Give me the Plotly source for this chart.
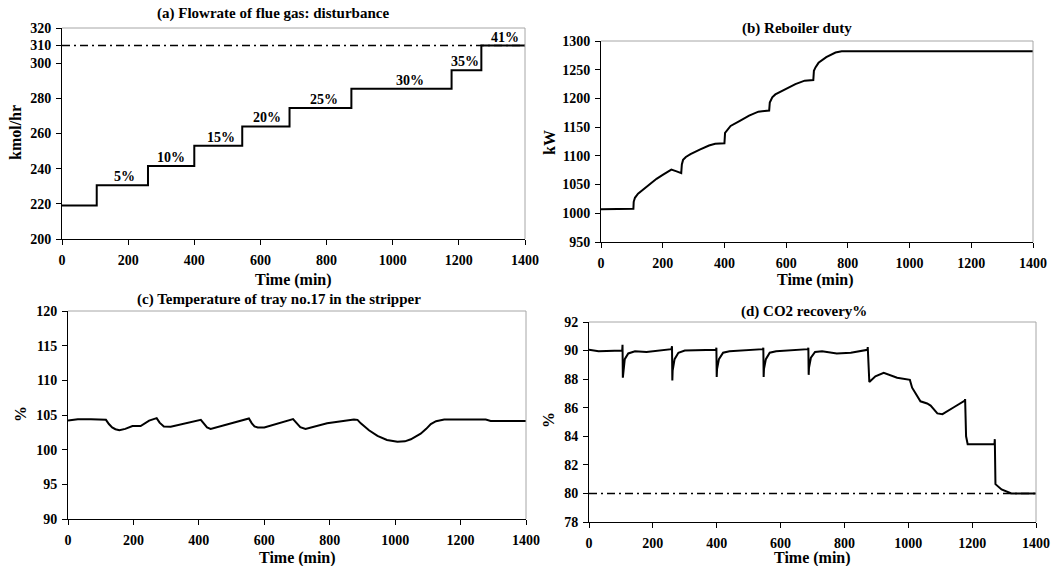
import plotly.graph_objects as go

# ---------------- data ----------------
# (a) flue gas flowrate steps
a_t = [0, 105, 105, 260, 260, 400, 400, 545, 545, 688, 688, 875, 875, 1178, 1178, 1268, 1268, 1400]
a_v = [219, 219, 230.5, 230.5, 241.5, 241.5, 253, 253, 264, 264, 274.5, 274.5, 285.5, 285.5, 296, 296, 310, 310]
a_limit = 310
a_labels = ["5%", "10%", "15%", "20%", "25%", "30%", "35%", "41%"]
a_label_t = [188, 330, 480, 620, 792, 1052, 1218, 1340]
a_label_v = [230.5, 241.5, 253, 264, 274.5, 285.5, 296, 310]

# (b) reboiler duty
b_t = [0, 70, 105, 106, 110, 120, 140, 160, 180, 200, 228, 245, 260, 262, 266, 275, 290, 320, 350, 370, 400,
       402, 410, 420, 450, 480, 510, 545, 547, 555, 565, 600, 630, 660, 688, 690, 695, 705, 730, 760, 780, 1400]
b_v = [1007, 1007, 1008, 1020, 1027, 1034, 1043, 1052, 1060, 1067, 1076, 1073, 1070, 1085, 1093, 1098, 1103, 1111, 1118, 1121, 1122,
       1140, 1146, 1152, 1161, 1170, 1177, 1179, 1193, 1202, 1207, 1216, 1225, 1231, 1232, 1248, 1254, 1262, 1272, 1280, 1282, 1282]

# (c) temperature of tray 17
c_t = [0, 30, 70, 116, 125, 135, 145, 157, 175, 197, 222, 248, 271, 280, 293, 314, 406, 415, 425, 436, 553, 562, 570, 580, 600,
       688, 698, 710, 726, 792, 874, 885, 895, 920, 946, 975, 1007, 1030, 1048, 1078, 1095, 1109, 1125, 1150, 1277, 1292, 1400]
c_v = [104.2, 104.4, 104.4, 104.3, 103.7, 103.2, 102.95, 102.8, 103.0, 103.4, 103.4, 104.2, 104.55, 103.9, 103.35, 103.3, 104.3,
       103.7, 103.2, 103.0, 104.5, 103.8, 103.35, 103.2, 103.2,
       104.4, 103.8, 103.25, 103.0, 103.8, 104.35, 104.3, 103.8, 102.8, 102.0, 101.4, 101.15, 101.2, 101.5, 102.3, 103.0, 103.7,
       104.1, 104.35, 104.35, 104.15, 104.15]

# (d) CO2 recovery
d_t = [0, 30, 104, 105, 106, 112, 123, 144, 180, 220, 258,
       260, 261, 262, 268, 280, 300, 340, 398,
       399, 400, 401, 407, 420, 440, 480, 545,
       546, 547, 548, 554, 566, 586, 630, 686,
       687, 688, 689, 695, 708, 730, 776, 820, 872,
       873, 878, 897, 923, 965, 1005, 1012, 1038, 1059, 1070, 1091, 1107, 1144, 1177,
       1178, 1181, 1186, 1230, 1270, 1271, 1273, 1292, 1323, 1400]
d_v = [90.05, 89.95, 90.0, 90.4, 88.1, 89.4, 89.8, 89.95, 89.9, 90.0, 90.1,
       90.3, 87.9, 88.6, 89.4, 89.85, 90.0, 90.0, 90.05,
       90.2, 88.15, 88.7, 89.4, 89.85, 89.95, 90.0, 90.1,
       90.2, 88.15, 88.7, 89.4, 89.85, 89.95, 90.0, 90.1,
       90.2, 88.3, 88.8, 89.5, 89.9, 89.95, 89.8, 89.85, 90.05,
       90.25, 87.8, 88.2, 88.45, 88.1, 87.95, 87.4, 86.45, 86.3, 86.15, 85.6, 85.55, 86.05, 86.5,
       86.6, 84.0, 83.45, 83.45, 83.45, 83.8, 80.65, 80.28, 80.0, 80.0]
d_limit = 80

titles = ["(a) Flowrate of flue gas: disturbance", "(b) Reboiler duty",
          "(c) Temperature of tray no.17 in the stripper", "(d) CO2 recovery%"]
y_titles = ["kmol/hr", "kW", "%", "%"]
x_title = "Time (min)"

# ---------------- layout ----------------
W, H = 1057, 566
FONT = "Liberation Serif, Times New Roman, serif"

def px_dom_x(x0, x1):
    return [x0 / W, x1 / W]

def px_dom_y(top, bottom):
    return [1 - bottom / H, 1 - top / H]

panels = [
    dict(xd=px_dom_x(62, 525), yd=px_dom_y(28, 239), yr=[200, 320],
         tv=[200, 220, 240, 260, 280, 300, 310, 320],
         title_xy=(273, 14), ytitle_xy=(15, 133), xtitle_xy=(293, 280)),
    dict(xd=px_dom_x(601, 1033), yd=px_dom_y(41, 242), yr=[950, 1300],
         tv=[950, 1000, 1050, 1100, 1150, 1200, 1250, 1300],
         title_xy=(797, 28), ytitle_xy=(549, 143), xtitle_xy=(815, 280)),
    dict(xd=px_dom_x(68, 526), yd=px_dom_y(311, 519), yr=[90, 120],
         tv=[90, 95, 100, 105, 110, 115, 120],
         title_xy=(279, 299), ytitle_xy=(20, 414), xtitle_xy=(297, 558)),
    dict(xd=px_dom_x(589, 1036), yd=px_dom_y(322, 522), yr=[78, 92],
         tv=[78, 80, 82, 84, 86, 88, 90, 92],
         title_xy=(804, 311), ytitle_xy=(548, 420), xtitle_xy=(812, 558)),
]

fig = go.Figure()
series = [(a_t, a_v), (b_t, b_v), (c_t, c_v), (d_t, d_v)]
layout = dict(width=W, height=H, margin=dict(l=0, r=0, t=0, b=0, autoexpand=False),
              paper_bgcolor="white", plot_bgcolor="white", showlegend=False,
              font=dict(family=FONT, color="black"))
annotations = []
shapes = []

def ann(text, px, py, size, angle=0):
    return dict(text="<b>" + text + "</b>", xref="paper", yref="paper", x=px / W, y=1 - py / H,
                xanchor="center", yanchor="middle", showarrow=False, textangle=angle,
                font=dict(family=FONT, size=size, color="black"))

for i, p in enumerate(panels):
    n = "" if i == 0 else str(i + 1)
    xa, ya = "x" + n, "y" + n
    t, v = series[i]
    fig.add_trace(go.Scatter(x=t, y=v, mode="lines", xaxis=xa, yaxis=ya,
                             line=dict(color="black", width=2)))
    axis_common = dict(showline=True, linecolor="black", linewidth=1, ticks="outside",
                       ticklen=5, tickcolor="black", showgrid=False, zeroline=False, automargin=False,
                       tickfont=dict(family=FONT, size=14, color="black", weight="bold"))
    layout["xaxis" + n] = dict(domain=p["xd"], range=[0, 1400], tickvals=list(range(0, 1401, 200)),
                               anchor=ya, ticklabelstandoff=3, **axis_common)
    layout["yaxis" + n] = dict(domain=p["yd"], range=p["yr"], tickvals=p["tv"], anchor=xa,
                               ticklabelstandoff=2, **axis_common)
    # gray frame (top and right)
    shapes.append(dict(type="line", xref=xa + " domain", yref=ya + " domain", x0=0, x1=1, y0=1, y1=1,
                       line=dict(color="#a6a6a6", width=1)))
    shapes.append(dict(type="line", xref=xa + " domain", yref=ya + " domain", x0=1, x1=1, y0=0, y1=1,
                       line=dict(color="#a6a6a6", width=1)))
    annotations.append(ann(titles[i], p["title_xy"][0], p["title_xy"][1], 15))
    annotations.append(ann(y_titles[i], p["ytitle_xy"][0], p["ytitle_xy"][1], 16, -90))
    annotations.append(ann(x_title, p["xtitle_xy"][0], p["xtitle_xy"][1], 16))

# limit lines
fig.add_trace(go.Scatter(x=[0, 1400], y=[a_limit, a_limit], mode="lines", xaxis="x", yaxis="y",
                         line=dict(color="black", width=1.5, dash="8px,4px,2px,4px")))
fig.add_trace(go.Scatter(x=[0, 1400], y=[d_limit, d_limit], mode="lines", xaxis="x4", yaxis="y4",
                         line=dict(color="black", width=1.5, dash="8px,4px,2px,4px")))

for lab, lt, lv in zip(a_labels, a_label_t, a_label_v):
    annotations.append(dict(text="<b>" + lab + "</b>", x=lt, y=lv, xref="x", yref="y",
                            xanchor="center", yanchor="bottom", showarrow=False, yshift=-1,
                            font=dict(family=FONT, size=14, color="black")))

layout["annotations"] = annotations
layout["shapes"] = shapes
fig.update_layout(**layout)
fig.write_html("out.html")
